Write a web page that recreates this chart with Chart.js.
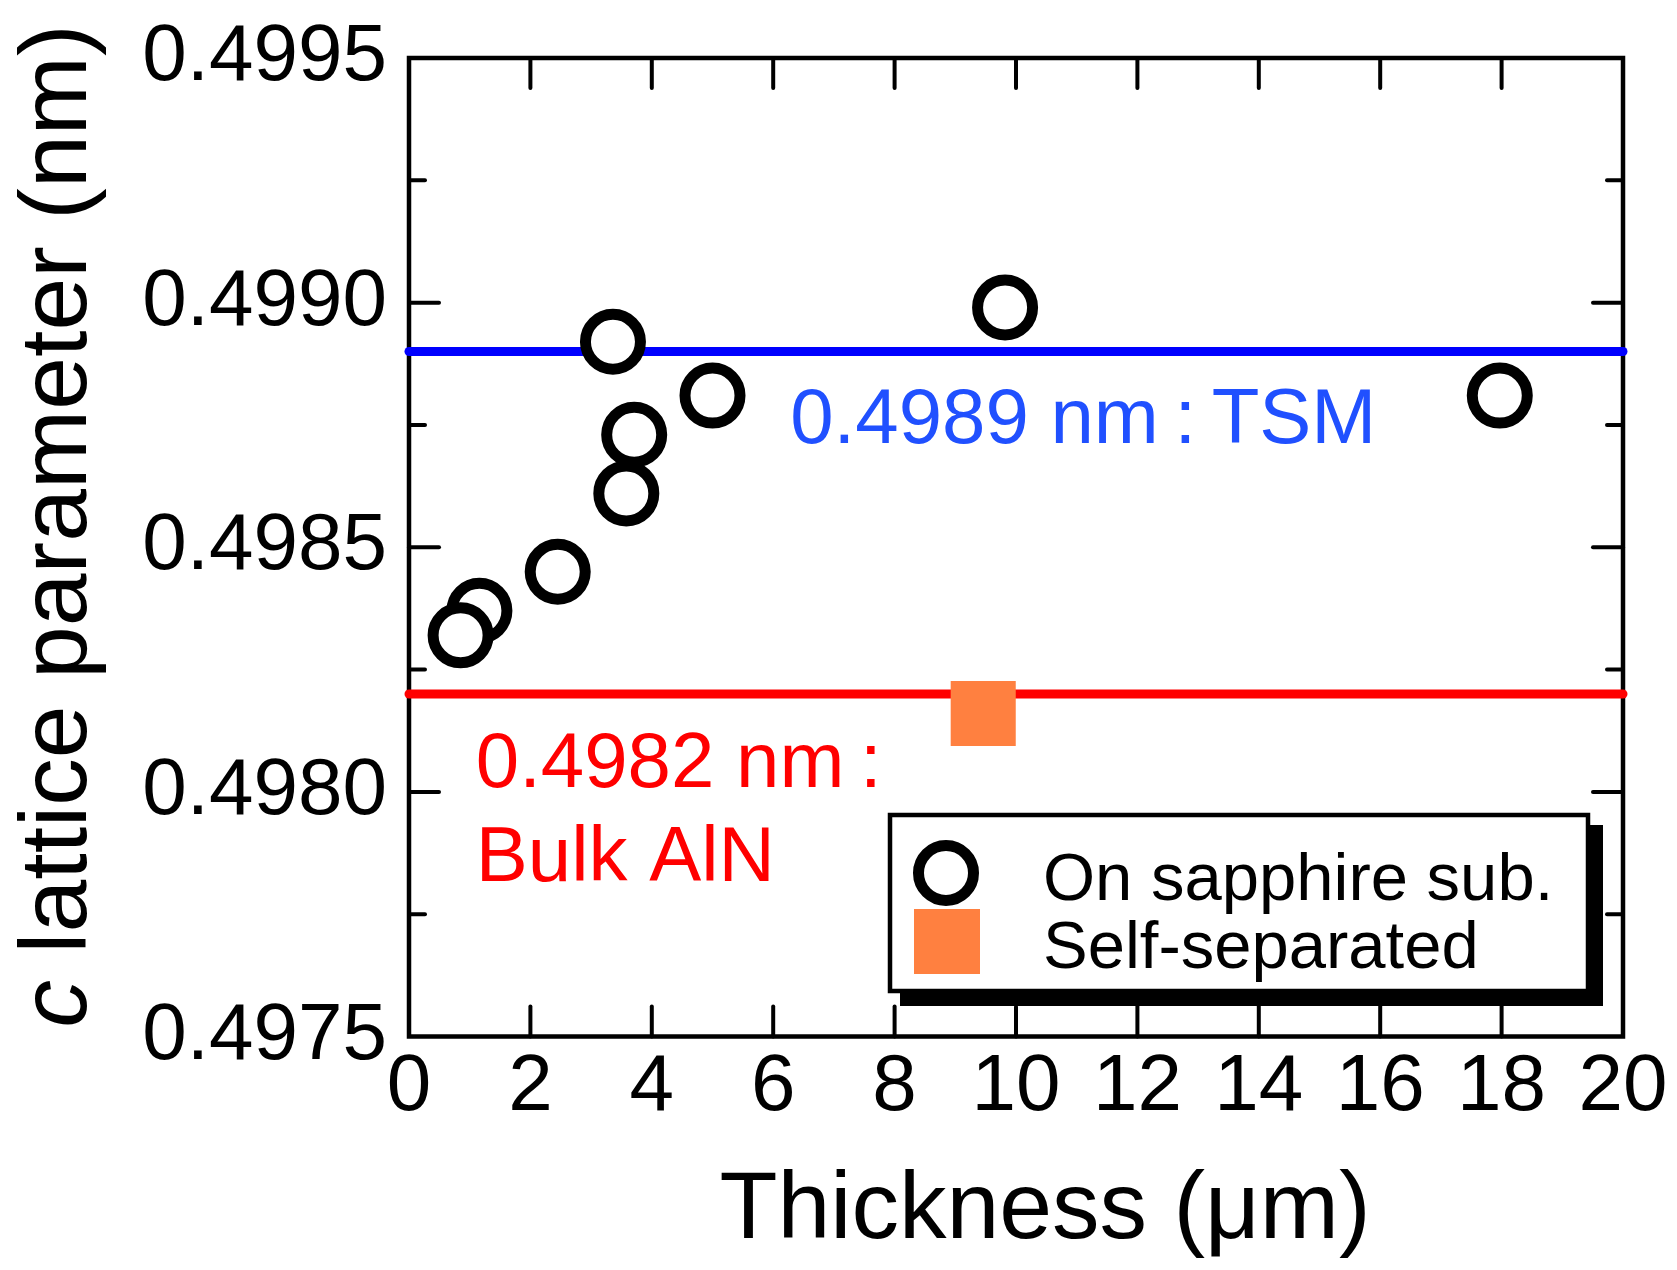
<!DOCTYPE html>
<html lang="en">
<head>
<meta charset="UTF-8">
<title>c lattice parameter vs thickness</title>
<script src="https://cdn.jsdelivr.net/npm/chart.js"></script>
<style>
  html, body { margin: 0; padding: 0; background: #fff; }
  #wrap { width: 1677px; height: 1270px; }
</style>
</head>
<body>
<div id="wrap"><canvas id="latticeChart" width="1677" height="1270"></canvas></div>
<script>
// data
const thicknessSapphire = [1.16, 0.85, 2.45, 3.36, 3.58, 3.71, 5.00, 9.82, 17.97];
const cSapphire = [0.49837, 0.49832, 0.49845, 0.49892, 0.49861, 0.49873, 0.49881, 0.49899, 0.49881];
const thicknessSelfSep = [9.46];
const cSelfSep = [0.49816];
const cTSM = 0.4989;
const cBulk = 0.4982;
const lineSpan = [0, 20];
const xTickLabels = ['0', '2', '4', '6', '8', '10', '12', '14', '16', '18', '20'];
const yTickLabels = ['0.4975', '0.4980', '0.4985', '0.4990', '0.4995'];

const FONT = "'Liberation Sans', Arial, Helvetica, sans-serif";

const frameTicks = {
    id: 'frameTicks',
    beforeDatasetsDraw(chart) {
        const { ctx, chartArea: a, scales: { x, y } } = chart;
        ctx.save();
        ctx.strokeStyle = '#000';
        ctx.lineCap = 'round';
        ctx.lineWidth = 4;
        const seg = (x1, y1, x2, y2) => { ctx.beginPath(); ctx.moveTo(x1, y1); ctx.lineTo(x2, y2); ctx.stroke(); };
        x.ticks.forEach(t => {
            const px = x.getPixelForValue(t.value);
            if (px <= a.left + 1 || px >= a.right - 1) return;
            seg(px, a.bottom, px, a.bottom - 30);
            seg(px, a.top, px, a.top + 30);
        });
        y.ticks.forEach(t => {
            const py = y.getPixelForValue(t.value);
            if (py <= a.top + 1 || py >= a.bottom - 1) return;
            const len = t.label ? 30 : 16;
            seg(a.left, py, a.left + len, py);
            seg(a.right, py, a.right - len, py);
        });
        ctx.lineCap = 'butt';
        ctx.lineWidth = 4.5;
        ctx.strokeRect(a.left, a.top, a.right - a.left, a.bottom - a.top);
        ctx.restore();
    }
};

const labelsAndLegend = {
    id: 'labelsAndLegend',
    afterDraw(chart) {
        const { ctx, chartArea: a, scales: { x, y } } = chart;
        const ds = chart.data.datasets;
        ctx.save();

        // axis titles
        ctx.fillStyle = '#000';
        ctx.textBaseline = 'alphabetic';
        ctx.font = '95px ' + FONT;
        ctx.textAlign = 'center';
        ctx.fillText('Thickness (\u03bcm)', (a.left + a.right) / 2 + 29, 1238);

        ctx.save();
        ctx.translate(86, 526);
        ctx.rotate(-Math.PI / 2);
        ctx.textAlign = 'left';
        ctx.font = 'italic 95px ' + FONT;
        const wc = ctx.measureText('c').width;
        ctx.font = '95px ' + FONT;
        const rest = ' lattice parameter (nm)';
        const wr = ctx.measureText(rest).width;
        const x0 = -(wc + wr) / 2;
        ctx.font = 'italic 95px ' + FONT;
        ctx.fillText('c', x0, 0);
        ctx.font = '95px ' + FONT;
        ctx.fillText(rest, x0 + wc, 0);
        ctx.restore();

        // line annotations
        ctx.textAlign = 'left';
        ctx.font = '78px ' + FONT;
        ctx.fillStyle = '#2050ff';
        ctx.fillText('0.4989 nm\u2009:\u2009TSM', x.getPixelForValue(6.28), y.getPixelForValue(0.498713));
        ctx.fillStyle = '#ff0000';
        ctx.fillText('0.4982 nm\u2009:', x.getPixelForValue(1.10), y.getPixelForValue(0.498010));
        ctx.fillText('Bulk AlN', x.getPixelForValue(1.10), y.getPixelForValue(0.497818));

        // legend box with drop shadow
        ctx.fillStyle = '#000';
        ctx.fillRect(900, 825, 703, 181);
        ctx.fillStyle = '#fff';
        ctx.fillRect(890, 815, 698, 176);
        ctx.lineWidth = 4.5;
        ctx.strokeStyle = '#000';
        ctx.strokeRect(890, 815, 698, 176);

        const circ = ds[3];
        ctx.beginPath();
        ctx.arc(946, 873, circ.pointRadius, 0, Math.PI * 2);
        ctx.fillStyle = circ.backgroundColor;
        ctx.fill();
        ctx.lineWidth = circ.borderWidth;
        ctx.strokeStyle = circ.borderColor;
        ctx.stroke();

        ctx.fillStyle = ds[2].backgroundColor;
        ctx.fillRect(914, 909, 66, 65);

        ctx.fillStyle = '#000';
        ctx.font = '67px ' + FONT;
        ctx.fillText(ds[3].label, 1043, 900);
        ctx.fillText(ds[2].label, 1043, 968);

        ctx.restore();
    }
};

new Chart(document.getElementById('latticeChart'), {
    type: 'scatter',
    data: {
        datasets: [
            {
                type: 'line', label: 'TSM',
                data: lineSpan.map(v => ({ x: v, y: cTSM })),
                borderColor: '#0000ff', borderWidth: 9, borderCapStyle: 'round',
                pointRadius: 0, fill: false, order: 3, clip: false
            },
            {
                type: 'line', label: 'Bulk AlN',
                data: lineSpan.map(v => ({ x: v, y: cBulk })),
                borderColor: '#ff0000', borderWidth: 9, borderCapStyle: 'round',
                pointRadius: 0, fill: false, order: 3, clip: false
            },
            {
                label: 'Self-separated',
                data: thicknessSelfSep.map((v, i) => ({ x: v, y: cSelfSep[i] })),
                pointStyle: 'rect', pointRadius: 46, borderWidth: 0,
                backgroundColor: '#ff8040', order: 2
            },
            {
                label: 'On sapphire sub.',
                data: thicknessSapphire.map((v, i) => ({ x: v, y: cSapphire[i] })),
                pointStyle: 'circle', pointRadius: 27.5, borderWidth: 11,
                borderColor: '#000', backgroundColor: '#fff', order: 1, clip: false
            }
        ]
    },
    options: {
        responsive: false,
        animation: false,
        events: [],
        layout: { padding: { top: 58, right: 54, left: 0, bottom: 0 } },
        plugins: { legend: { display: false }, tooltip: { enabled: false } },
        scales: {
            x: {
                type: 'linear', min: 0, max: 20,
                grid: { display: false, drawTicks: false },
                border: { display: false },
                ticks: {
                    stepSize: 2, autoSkip: false, maxRotation: 0, padding: 3,
                    color: '#000', font: { family: FONT, size: 80 },
                    callback: v => xTickLabels[Math.round(v / 2)] ?? ''
                },
                afterFit: s => { s.height = 233.5; s.paddingLeft = 0; s.paddingRight = 0; }
            },
            y: {
                type: 'linear', min: 0.4975, max: 0.4995,
                grid: { display: false, drawTicks: false },
                border: { display: false },
                ticks: {
                    stepSize: 0.00025, autoSkip: false, padding: 22,
                    color: '#000', font: { family: FONT, size: 80 },
                    callback: v => { const s = v.toFixed(4); return yTickLabels.includes(s) ? s : ''; }
                },
                afterFit: s => { s.width = 409; s.paddingTop = 0; s.paddingBottom = 0; }
            }
        }
    },
    plugins: [frameTicks, labelsAndLegend]
});
</script>
</body>
</html>
